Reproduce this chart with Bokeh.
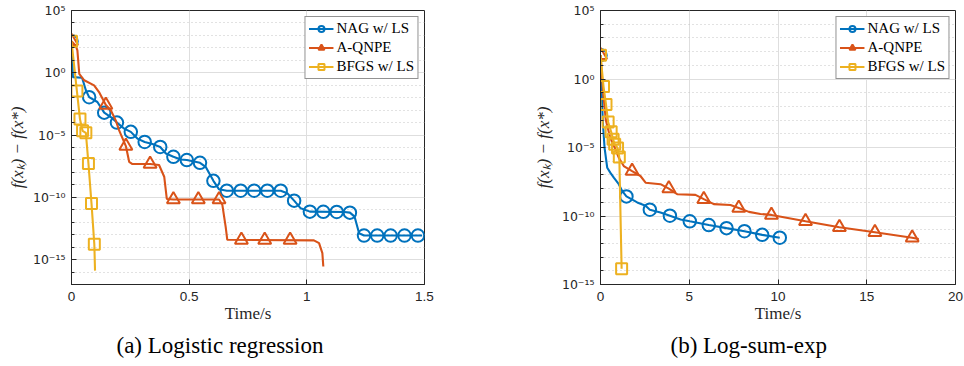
import math
from bokeh.plotting import figure
from bokeh.layouts import row
from bokeh.models import Range1d, FixedTicker, Legend, LegendItem, Title
from bokeh.embed import file_html
from bokeh.resources import INLINE

# ---------------- data: (a) Logistic regression ----------------
nag_a_t = [0.000, 0.006, 0.045, 0.061, 0.075, 0.110, 0.139, 0.167, 0.193, 0.224, 0.252, 0.280,
           0.311, 0.344, 0.377, 0.401, 0.433, 0.464, 0.490, 0.546, 0.570, 0.603, 0.627, 0.660,
           0.889, 0.917, 0.946, 0.974, 1.013, 1.160, 1.183, 1.203, 1.222, 1.243, 1.490]
nag_a_f = [3.4e2, 4.5e-1, 4.0e-1, 3.9e-2, 1.1e-2, 4.5e-3, 6.3e-4, 2.8e-4, 1.0e-4, 3.3e-5, 1.8e-5, 5.2e-6,
           2.8e-6, 1.9e-6, 1.1e-6, 3.3e-7, 1.8e-7, 1.1e-7, 9.8e-8, 5.9e-8, 2.8e-8, 2.1e-9, 4.4e-10, 3.4e-10,
           3.4e-10, 2.1e-10, 5.4e-11, 1.3e-11, 7.1e-12, 6.6e-12, 5.9e-12, 2.8e-12, 1.3e-13, 8.5e-14, 8.5e-14]
nag_a_mt = [0.000, 0.075, 0.139, 0.193, 0.252, 0.311, 0.377, 0.433, 0.490, 0.546, 0.603, 0.660, 0.719,
            0.776, 0.832, 0.889, 0.946, 1.013, 1.070, 1.127, 1.183, 1.243, 1.299, 1.356, 1.415, 1.472]
nag_a_mf = [3.4e2, 1.1e-2, 6.3e-4, 1.0e-4, 1.8e-5, 2.8e-6, 1.1e-6, 1.8e-7, 9.8e-8, 5.9e-8, 2.1e-9, 3.4e-10, 3.4e-10,
            3.4e-10, 3.4e-10, 3.4e-10, 5.4e-11, 7.1e-12, 6.9e-12, 6.7e-12, 5.9e-12, 8.5e-14, 8.5e-14, 8.5e-14, 8.5e-14, 8.5e-14]

qnpe_a_t = [0.000, 0.018, 0.025, 0.033, 0.054, 0.096, 0.117, 0.146, 0.167, 0.188, 0.202, 0.231, 0.245, 0.259,
            0.334, 0.372, 0.394, 0.405, 0.433, 0.627, 0.641, 0.655, 0.662, 1.030, 1.052, 1.066, 1.070]
qnpe_a_f = [3.4e2, 1.5e2, 6.2e1, 8.3e-1, 2.5e-1, 9.8e-2, 2.8e-2, 2.6e-3, 9.8e-4, 1.5e-4, 2.5e-5, 1.3e-6, 7.1e-8, 4.7e-8,
            4.7e-8, 3.9e-8, 4.5e-9, 7.4e-11, 6.6e-11, 6.6e-11, 2.5e-11, 4.5e-13, 3.9e-14, 3.5e-14, 2.1e-14, 3.3e-15, 2.8e-16]
qnpe_a_mt = [0.000, 0.146, 0.231, 0.334, 0.433, 0.539, 0.627, 0.722, 0.821, 0.929]
qnpe_a_mf = [3.4e2, 2.6e-3, 1.3e-6, 4.7e-8, 6.6e-11, 6.6e-11, 6.6e-11, 3.7e-14, 3.7e-14, 3.7e-14]

bfgs_a_t = [0.000, 0.023, 0.036, 0.047, 0.061, 0.072, 0.085, 0.097, 0.100]
bfgs_a_f = [3.4e2, 3.4e-2, 1.9e-4, 2.2e-5, 1.5e-5, 5.2e-8, 3.2e-11, 1.7e-14, 1.3e-16]
bfgs_a_mt = [0.000, 0.023, 0.036, 0.047, 0.061, 0.072, 0.085, 0.097]
bfgs_a_mf = [3.4e2, 3.4e-2, 1.9e-4, 2.2e-5, 1.5e-5, 5.2e-8, 3.2e-11, 1.7e-14]

# ---------------- data: (b) Log-sum-exp ----------------
nag_b_t = [0.00, 0.06, 0.13, 0.23, 0.38, 0.56, 0.75, 1.03, 1.22, 1.46, 2.07, 2.54, 2.78, 3.38, 3.91,
           4.51, 5.03, 6.10, 7.10, 8.11, 9.11, 10.10]
nag_b_f = [5.5e1, 2.1e-1, 7.9e-4, 9.3e-6, 3.3e-7, 1.4e-7, 6.3e-8, 2.1e-8, 6.8e-9, 2.7e-9, 9.8e-10, 5.6e-10,
           2.9e-10, 1.8e-10, 1.05e-10, 5.6e-11, 4.1e-11, 2.2e-11, 1.3e-11, 7.8e-12, 4.2e-12, 2.6e-12]
nag_b_mt = [0.00, 1.46, 2.78, 3.91, 5.03, 6.10, 7.10, 8.11, 9.11, 10.10]
nag_b_mf = [5.5e1, 2.7e-9, 2.9e-10, 1.05e-10, 4.1e-11, 2.2e-11, 1.3e-11, 7.8e-12, 4.2e-12, 2.6e-12]

qnpe_b_t = [0.00, 0.15, 0.30, 0.55, 0.80, 1.03, 1.31, 1.78, 2.25, 2.54, 3.38, 3.85, 4.32, 5.35, 5.82,
            6.38, 7.32, 7.79, 8.36, 9.01, 9.63, 11.55, 13.46, 15.46, 17.56, 17.93]
qnpe_b_f = [5.5e1, 1.0e-1, 1.0e-3, 5.0e-5, 1.0e-5, 1.8e-6, 4.4e-7, 1.9e-7, 8.3e-8, 2.7e-8, 2.1e-8, 1.0e-8,
            3.9e-9, 3.5e-9, 1.7e-9, 7.4e-10, 6.3e-10, 3.8e-10, 2.0e-10, 1.4e-10, 1.2e-10, 4.1e-11, 1.5e-11,
            6.6e-12, 2.6e-12, 2.1e-12]
qnpe_b_mt = [0.00, 1.78, 3.85, 5.82, 7.79, 9.63, 11.55, 13.46, 15.46, 17.56]
qnpe_b_mf = [5.5e1, 1.9e-7, 1.0e-8, 1.7e-9, 3.8e-10, 1.2e-10, 4.1e-11, 1.5e-11, 6.6e-12, 2.6e-12]

bfgs_b_t = [0.00, 0.17, 0.31, 0.43, 0.60, 0.71, 0.80, 0.96, 1.06, 1.19]
bfgs_b_f = [5.5e1, 2.8e-1, 1.4e-2, 7.2e-4, 1.4e-4, 4.0e-5, 1.7e-5, 9.3e-6, 2.0e-6, 1.4e-14]

series_names = ["NAG w/ LS", "A-QNPE", "BFGS w/ LS"]
captions = ["(a) Logistic regression", "(b) Log-sum-exp"]
x_label = "Time/s"
y_label = "f(x\u2096) \u2212 f(x*)"

a_xticks = [0, 0.5, 1, 1.5]
a_xlabels = ["0", "0.5", "1", "1.5"]
b_xticks = [0, 5, 10, 15, 20]
b_xlabels = ["0", "5", "10", "15", "20"]
y_major = [1e-15, 1e-10, 1e-5, 1.0, 1e5]
y_major_labels = ["10\u207b\u00b9\u2075", "10\u207b\u00b9\u2070", "10\u207b\u2075", "10\u2070", "10\u2075"]

COLORS = ["#0072BD", "#D95319", "#EDB120"]
MARKERS = ["circle", "triangle", "square"]
MSIZE = [12.5, 13, 11]
AXC = "#262626"
H = 366


def make_fig(xr, yr, xticks, xlabels, w, mbl, mbr, mbt, series, caption, cap_offset, ylab_standoff):
    p = figure(y_axis_type="log", x_range=Range1d(*xr), y_range=Range1d(*yr),
               width=w, height=H, min_border_left=mbl, min_border_right=mbr,
               min_border_top=mbt, min_border_bottom=82, output_backend="svg", toolbar_location=None,
               background_fill_color="white", border_fill_color="white")
    p.outline_line_color = AXC
    p.outline_line_width = 1

    e0 = int(round(math.log10(yr[0])))
    yminor = [10.0 ** e for e in range(e0, 6) if e % 5 != 0]
    yt = FixedTicker(ticks=y_major, minor_ticks=yminor)
    p.yaxis.ticker = yt
    p.ygrid.ticker = yt
    p.yaxis.major_label_overrides = {v: s for v, s in zip(y_major, y_major_labels)}
    xt = FixedTicker(ticks=xticks)
    p.xaxis.ticker = xt
    p.xgrid.ticker = xt
    p.xaxis.major_label_overrides = {v: s for v, s in zip(xticks, xlabels)}

    for ax in (p.xaxis, p.yaxis):
        ax.axis_line_color = AXC
        ax.major_tick_line_color = AXC
        ax.minor_tick_line_color = AXC
        ax.major_tick_in = 5
        ax.major_tick_out = 0
        ax.minor_tick_in = 3
        ax.minor_tick_out = 0
        ax.major_label_text_color = AXC
        ax.axis_label_text_font = "Liberation Serif"
        ax.axis_label_text_font_size = "17px"
        ax.axis_label_text_color = AXC
    p.xaxis.major_label_text_font = "Liberation Sans"
    p.xaxis.major_label_text_font_size = "13.5px"
    p.yaxis.major_label_text_font = "DejaVu Sans"
    p.yaxis.major_label_text_font_size = "12.5px"
    p.xaxis.major_label_standoff = 7
    p.yaxis.major_label_standoff = 6
    p.xaxis.axis_label_standoff = 0
    p.yaxis.axis_label_standoff = ylab_standoff
    p.xaxis.axis_label = x_label
    p.xaxis.axis_label_text_font_style = "normal"
    p.yaxis.axis_label = y_label
    p.yaxis.axis_label_text_font_style = "italic"

    p.xgrid.grid_line_color = "#dedede"
    p.ygrid.grid_line_color = "#dedede"
    p.ygrid.minor_grid_line_color = "#c4c4c4"
    p.ygrid.minor_grid_line_dash = "1 3"

    items = []
    for i, (lt, lf, mt, mf) in enumerate(series):
        lr = p.line(lt, lf, line_color=COLORS[i], line_width=2.1)
        mr = p.scatter(mt, mf, marker=MARKERS[i], size=MSIZE[i], fill_color=None,
                       line_color=COLORS[i], line_width=2.0)
        items.append(LegendItem(label=series_names[i], renderers=[lr, mr]))

    leg = Legend(items=items, location="top_right", margin=6, padding=3, spacing=2,
                 glyph_width=25, glyph_height=15, label_height=15, label_standoff=3,
                 label_text_font="Liberation Serif", label_text_font_size="15px",
                 label_text_color="black", border_line_color=AXC, border_line_width=1,
                 background_fill_color="white", background_fill_alpha=1)
    p.add_layout(leg)

    p.add_layout(Title(text=caption, align="left", offset=cap_offset, text_font="Liberation Serif",
                       text_font_size="23px", text_font_style="normal", text_color="black",
                       standoff=10), "below")
    return p


pa = make_fig((0, 1.5), (1e-17, 1e5), a_xticks, a_xlabels, 520, 71, 96, 10,
              [(nag_a_t, nag_a_f, nag_a_mt, nag_a_mf),
               (qnpe_a_t, qnpe_a_f, qnpe_a_mt, qnpe_a_mf),
               (bfgs_a_t, bfgs_a_f, bfgs_a_mt, bfgs_a_mf)],
              captions[0], 45, 3)
pb = make_fig((0, 20), (1e-15, 1e5), b_xticks, b_xlabels, 444, 80, 9, 8,
              [(nag_b_t, nag_b_f, nag_b_mt, nag_b_mf),
               (qnpe_b_t, qnpe_b_f, qnpe_b_mt, qnpe_b_mf),
               (bfgs_b_t, bfgs_b_f, bfgs_b_t, bfgs_b_f)],
              captions[1], 70, 6)

layout = row(pa, pb, spacing=0)
with open("out.html", "w", encoding="utf-8") as fh:
    fh.write(file_html(layout, INLINE))
